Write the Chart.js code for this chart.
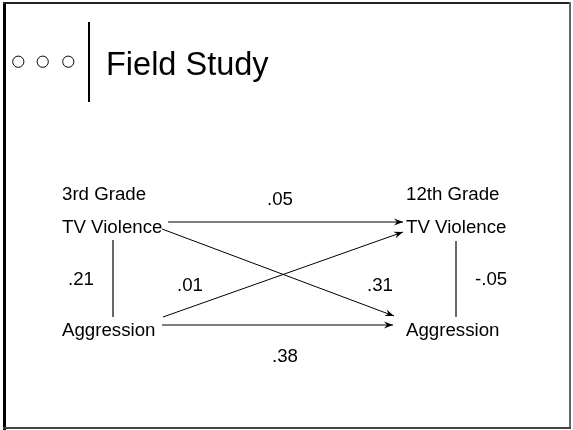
<!DOCTYPE html>
<html>
<head>
<meta charset="utf-8">
<title>Field Study</title>
<script src="https://cdn.jsdelivr.net/npm/chart.js@4/dist/chart.umd.min.js"></script>
<style>
    html, body { margin: 0; padding: 0; background: #fff; }
    canvas { display: block; }
</style>
</head>
<body>
<canvas id="pathChart" width="573" height="430"></canvas>
<script>
// Data
const slideTitle = 'Field Study';
const gradeLabels = ['3rd Grade', '12th Grade'];
const variableLabels = ['TV Violence', 'Aggression'];
// paths: from (3rd grade variable) -> to (12th grade variable)
const pathFrom = ['TV Violence', 'Aggression', 'TV Violence', 'Aggression'];
const pathTo = ['TV Violence', 'TV Violence', 'Aggression', 'Aggression'];
const pathCoef = [0.05, 0.01, 0.31, 0.38];
// within-wave correlations: 3rd grade, 12th grade
const correlations = [0.21, -0.05];

// Layout (canvas units, the axes run 0..573 and 0..430)
const layout = {
    columnX: [62, 406],
    gradeY: 200,
    rowY: { 'TV Violence': 233, 'Aggression': 336 },
    // path end points, same order as pathCoef
    pathEnds: [
        [[168, 222], [403, 222]],
        [[163, 317], [403, 232]],
        [[162, 229], [394, 316]],
        [[162, 325], [393, 325]]
    ],
    coefPos: [[267, 205], [177, 291], [367, 291], [272, 362]],
    corrLine: [[113, 240, 317], [456, 241, 317]],
    corrPos: [[68, 285], [475, 285]],
    bullets: [[18.3, 61.7], [42.7, 61.7], [68.3, 61.7]]
};

const font = '"Liberation Sans", Arial, sans-serif';

function fmtCoef(v) {
    const s = Math.abs(v).toFixed(2).replace(/^0/, '');
    return (v < 0 ? '-' : '') + s;
}

const pathDatasets = pathCoef.map(function(c, i) {
    const ends = layout.pathEnds[i];
    return {
        label: pathFrom[i] + ' -> ' + pathTo[i],
        data: [{ x: ends[0][0], y: ends[0][1] }, { x: ends[1][0], y: ends[1][1] }],
        showLine: true,
        borderColor: '#000',
        borderWidth: 1,
        pointRadius: 0,
        arrow: true
    };
});

const corrDatasets = correlations.map(function(c, i) {
    const l = layout.corrLine[i];
    return {
        label: 'r ' + gradeLabels[i],
        data: [{ x: l[0], y: l[1] }, { x: l[0], y: l[2] }],
        showLine: true,
        borderColor: '#555',
        borderWidth: 1,
        pointRadius: 0
    };
});

const bulletDataset = {
    label: 'bullets',
    data: layout.bullets.map(function(p) { return { x: p[0], y: p[1] }; }),
    showLine: false,
    pointStyle: 'circle',
    pointRadius: 5.6,
    pointBackgroundColor: '#fff',
    pointBorderColor: '#000',
    pointBorderWidth: 1
};

// Plugin: slide frame, title, node labels, coefficients, arrowheads
const slidePlugin = {
    id: 'slide',
    beforeDraw(chart) {
        const ctx = chart.ctx;
        ctx.save();
        ctx.fillStyle = '#fff';
        ctx.fillRect(0, 0, chart.width, chart.height);
        ctx.restore();
    },
    afterDatasetsDraw(chart) {
        const ctx = chart.ctx;
        const xs = chart.scales.x, ys = chart.scales.y;
        const px = function(v) { return xs.getPixelForValue(v); };
        const py = function(v) { return ys.getPixelForValue(v); };

        ctx.save();
        // arrowheads
        chart.data.datasets.forEach(function(ds) {
            if (!ds.arrow) return;
            const a = ds.data[0], b = ds.data[1];
            const x1 = px(a.x), y1 = py(a.y), x2 = px(b.x), y2 = py(b.y);
            const ang = Math.atan2(y2 - y1, x2 - x1);
            ctx.save();
            ctx.translate(x2, y2);
            ctx.rotate(ang);
            ctx.beginPath();
            ctx.moveTo(0, 0);
            ctx.lineTo(-9, -3.5);
            ctx.lineTo(-6, 0);
            ctx.lineTo(-9, 3.5);
            ctx.closePath();
            ctx.fillStyle = '#000';
            ctx.fill();
            ctx.restore();
        });

        // frame
        ctx.fillStyle = '#000';
        ctx.fillRect(px(3), py(2), 3, 428);
        ctx.fillStyle = '#222';
        ctx.fillRect(px(3), py(2), 568, 2);
        ctx.fillStyle = '#666';
        ctx.fillRect(px(569), py(2), 2, 427);
        ctx.fillStyle = '#444';
        ctx.fillRect(px(3), py(427), 568, 2);

        // title bar
        ctx.fillStyle = '#000';
        ctx.fillRect(px(88), py(22), 2, 80);
        ctx.font = '32.5px ' + font;
        ctx.textBaseline = 'alphabetic';
        ctx.textAlign = 'left';
        ctx.fillText(slideTitle, px(106), py(75));

        // node labels
        ctx.font = '18.7px ' + font;
        gradeLabels.forEach(function(g, i) {
            const cx = layout.columnX[i];
            ctx.fillText(g, px(cx), py(layout.gradeY));
            variableLabels.forEach(function(v) {
                ctx.fillText(v, px(cx), py(layout.rowY[v]));
            });
        });

        // path coefficients
        pathCoef.forEach(function(c, i) {
            const p = layout.coefPos[i];
            ctx.fillText(fmtCoef(c), px(p[0]), py(p[1]));
        });
        correlations.forEach(function(c, i) {
            const p = layout.corrPos[i];
            ctx.fillText(fmtCoef(c), px(p[0]), py(p[1]));
        });
        ctx.restore();
    }
};

const ctx = document.getElementById('pathChart').getContext('2d');
new Chart(ctx, {
    type: 'scatter',
    data: {
        datasets: pathDatasets.concat(corrDatasets, [bulletDataset])
    },
    options: {
        responsive: false,
        animation: false,
        layout: { padding: 0, autoPadding: false },
        plugins: {
            legend: { display: false },
            tooltip: { enabled: false }
        },
        scales: {
            x: { type: 'linear', min: 0, max: 573, display: false },
            y: { type: 'linear', min: 0, max: 430, reverse: true, display: false }
        }
    },
    plugins: [slidePlugin]
});
</script>
</body>
</html>
